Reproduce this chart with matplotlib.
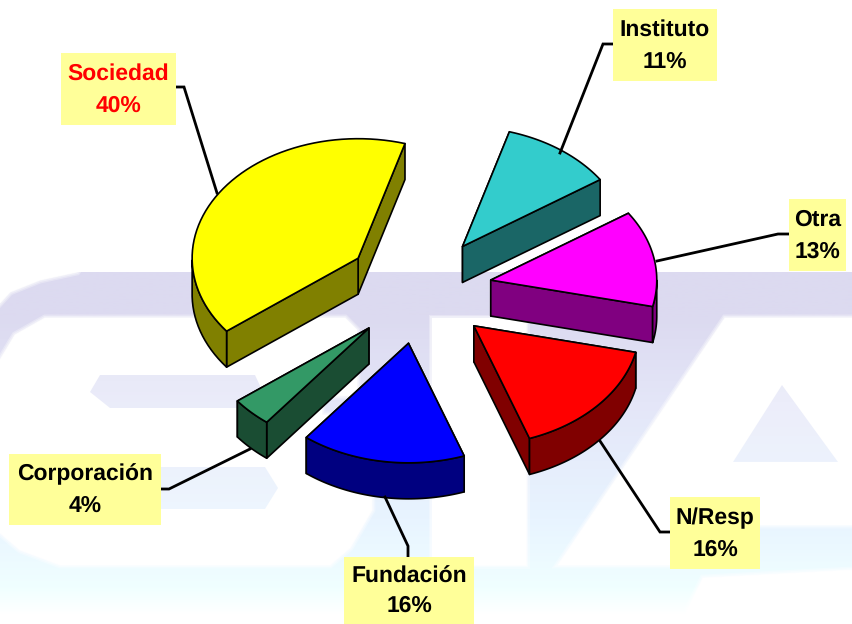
import numpy as np
import matplotlib
matplotlib.use('Agg')
import matplotlib.pyplot as plt
from matplotlib.patches import Polygon, Rectangle
from matplotlib.colors import LinearSegmentedColormap

etiquetas = ['Sociedad', 'Corporación', 'Fundación', 'N/Resp', 'Otra', 'Instituto']
valores = [40, 4, 16, 16, 13, 11]
colores = ['#FFFF00', '#339966', '#0000FF', '#FF0000', '#FF00FF', '#33CCCC']
laterales = ['#808000', '#1A4D33', '#000080', '#800000', '#800080', '#1A6666']

# centro, radio y forma del pastel (pixeles)
cx, cy = 420, 290
radio = 166
aplaste = 0.72
separa = [75, 72, 72, 72, 72, 72]
alto = 36
inicio = 73.6

# cajas: x0, y0, x1, y1
cajas = [(61, 53, 176, 125), (9, 454, 161, 525), (344, 557, 474, 624),
         (670, 497, 760, 569), (789, 199, 846, 271), (613, 9, 717, 81)]
guias = [[(176, 87), (184, 87), (217, 193)],
         [(161, 489), (169, 489), (250, 449)],
         [(408, 557), (408, 546), (385, 497)],
         [(670, 532), (660, 532), (600, 441)],
         [(789, 234), (778, 234), (657, 261)],
         [(613, 44), (603, 44), (560, 153)]]

plt.rcParams['font.family'] = ['Liberation Sans', 'DejaVu Sans']
plt.rcParams['text.hinting'] = 'none'
fig = plt.figure(figsize=(8.52, 6.24), dpi=100)
ax = fig.add_axes([0, 0, 1, 1])
ax.axis('off')

# marca de agua de fondo
cmap = LinearSegmentedColormap.from_list('fondo', [
    (0.0, '#DCDAF0'), (0.13, '#DCDAF0'), (0.38, '#E4E6F8'),
    (0.72, '#E8F4FF'), (0.92, '#F0FFFF'), (1.0, '#FFFFFF')])
grad = np.linspace(0, 1, 256).reshape(-1, 1)


def degradado(z, clip=None, alpha=1):
    im = ax.imshow(grad, extent=(0, 852, 615, 272), cmap=cmap, vmin=0, vmax=1,
                   aspect='auto', zorder=z, alpha=alpha)
    if clip is not None:
        pol = Polygon(clip, closed=True, transform=ax.transData)
        im.set_clip_path(pol)


def blanco(puntos):
    for lw, al in [(5, 0.3), (3, 0.4), (1, 0.6)]:
        ax.add_patch(Polygon(puntos, closed=True, fc='white', ec='white', lw=lw, alpha=al, zorder=2))
    ax.add_patch(Polygon(puntos, closed=True, fc='white', ec='none', zorder=2))


degradado(1)
blanco([(0, 268), (80, 268), (77, 272), (40, 280), (10, 292), (0, 303)])
blanco([(45, 318), (345, 318), (357, 330), (357, 395), (322, 397), (322, 415), (370, 415),
        (372, 510), (350, 548), (330, 565), (60, 565), (20, 550), (0, 533), (0, 360), (15, 335)])
blanco([(432, 318), (526, 318), (526, 565), (432, 565)])
blanco([(725, 318), (852, 318), (852, 525), (690, 525), (670, 565), (558, 565)])
blanco([(852, 570), (703, 578), (680, 624), (852, 624)])
degradado(2.5, [(100, 375), (255, 375), (262, 390), (255, 408), (110, 408), (90, 392)], 0.75)
degradado(2.5, [(60, 467), (265, 467), (278, 488), (265, 509), (60, 509)], 0.75)
degradado(2.5, [(782, 385), (838, 462), (733, 462)], 0.7)
ax.set_xlim(0, 852)
ax.set_ylim(624, 0)


def punto(x0, y0, ang):
    a = np.radians(ang)
    return x0 + radio * np.cos(a), y0 - radio * aplaste * np.sin(a)


def cara(puntos, color, z):
    ax.add_patch(Polygon(puntos, closed=True, fc=color, ec='black', lw=1.2, joinstyle='round', zorder=z))


# porciones del pastel, a partir de los valores
total = sum(valores)
a1 = inicio
for i in range(len(valores)):
    a2 = a1 + 360 * valores[i] / total
    medio = np.radians((a1 + a2) / 2)
    x0 = cx + separa[i] * np.cos(medio)
    y0 = cy - separa[i] * 0.75 * np.sin(medio)
    angs = np.linspace(a1, a2, 60)
    arco = [punto(x0, y0, a) for a in angs]
    z = 3 + i * 0.1

    # caras de corte, primero la de atras
    p1, p2 = arco[0], arco[-1]
    cortes = sorted([p1, p2], key=lambda p: p[1])
    for p in cortes:
        cara([(x0, y0), p, (p[0], p[1] + alto), (x0, y0 + alto)], laterales[i], z)

    # borde exterior, solo la parte de delante
    frente = [a for a in angs if np.sin(np.radians(a)) < 0]
    if frente:
        borde = [punto(x0, y0, a) for a in frente]
        abajo = [(x, y + alto) for x, y in borde[::-1]]
        cara(borde + abajo, laterales[i], z + 0.01)

    cara([(x0, y0)] + arco, colores[i], z + 0.02)
    a1 = a2

# etiquetas y guias
for i in range(len(etiquetas)):
    x, y, x2, y2 = cajas[i]
    g = np.array(guias[i])
    ax.plot(g[:, 0], g[:, 1], color='black', lw=2, solid_joinstyle='miter', zorder=5)
    ax.add_patch(Rectangle((x, y), x2 - x, y2 - y, fc='#FFFF99', ec='none', zorder=6))
    col = 'red' if etiquetas[i] == 'Sociedad' else 'black'
    ax.text((x + x2) / 2, y + (y2 - y) * 0.29, etiquetas[i], ha='center', va='center',
            fontsize=16.5, fontweight='bold', color=col, zorder=7)
    ax.text((x + x2) / 2, y + (y2 - y) * 0.73, '%d%%' % valores[i], ha='center', va='center',
            fontsize=16.5, fontweight='bold', color=col, zorder=7)

fig.savefig('out.png', dpi=100)
